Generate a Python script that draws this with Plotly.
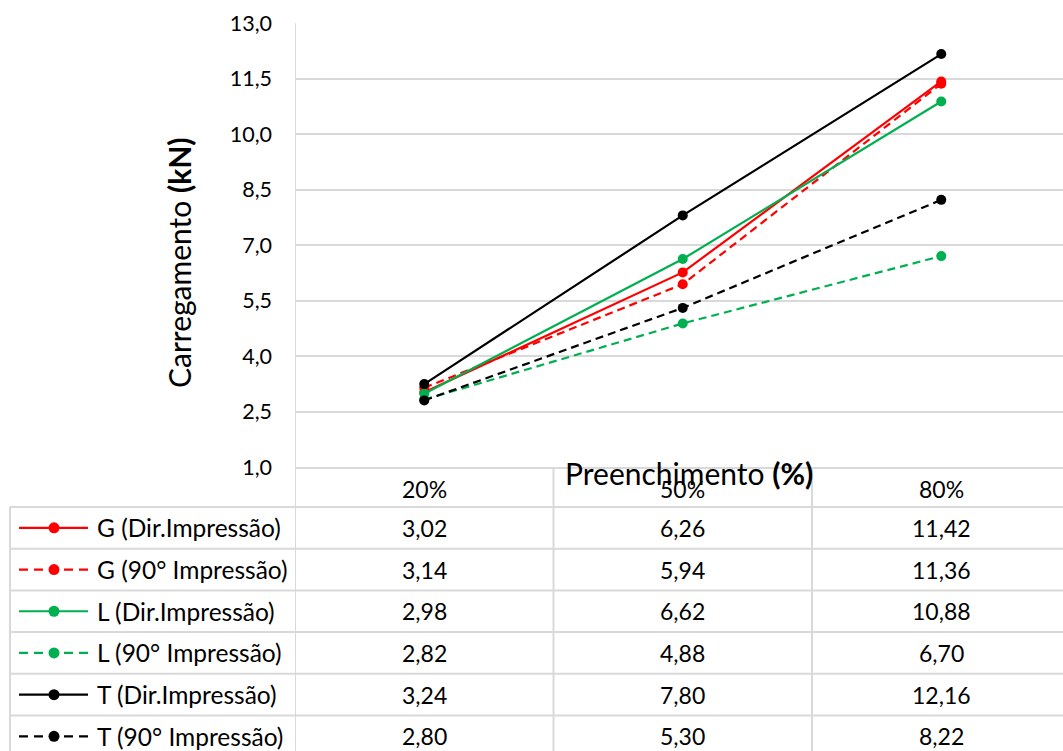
import plotly.graph_objects as go

# ---------------- data ----------------
categories = ["20%", "50%", "80%"]
series_names = ["G (Dir.Impressão)", "G (90° Impressão)", "L (Dir.Impressão)",
                "L (90° Impressão)", "T (Dir.Impressão)", "T (90° Impressão)"]
g_dir = [3.02, 6.26, 11.42]
g_90 = [3.14, 5.94, 11.36]
l_dir = [2.98, 6.62, 10.88]
l_90 = [2.82, 4.88, 6.70]
t_dir = [3.24, 7.80, 12.16]
t_90 = [2.80, 5.30, 8.22]
y_ticks = [1.0, 2.5, 4.0, 5.5, 7.0, 8.5, 10.0, 11.5, 13.0]

series_values = [g_dir, g_90, l_dir, l_90, t_dir, t_90]
series_colors = ["#FF0000", "#FF0000", "#00B050", "#00B050", "#000000", "#000000"]
series_dashed = [False, True, False, True, False, True]

# ---------------- geometry ----------------
W, H = 1063, 751
L_PX, T_PX, B_PX = 295, 23, 467
PLOT_H = B_PX - T_PX
PLOT_W = W - L_PX
CAT_W = 258.5
GRID = "#D9D9D9"
FONT = "Lato"
DASH = "8px,5px"


def py(p):
    return (B_PX - p) / PLOT_H


def px(p):
    return (p - L_PX) / PLOT_W


fmt = lambda v: f"{v:.2f}".replace(".", ",")

fig = go.Figure()
xs = list(range(len(categories)))
for name, vals, col, dashed in zip(series_names, series_values, series_colors, series_dashed):
    fig.add_trace(go.Scatter(
        x=xs, y=vals, name=name, mode="lines+markers",
        line=dict(color=col, width=2.2, dash=DASH if dashed else "solid"),
        marker=dict(color=col, size=10, symbol="circle"),
        showlegend=False,
    ))

shapes = []
annotations = []

# table row geometry
header_top, header_bot = 467, 507
row_h = 41.7
row_tops = [header_bot + i * row_h for i in range(len(series_names))]

# vertical column separators (category boundaries)
for b in [0.5, 1.5]:
    shapes.append(dict(type="line", xref="x", yref="paper", x0=b, x1=b,
                       y0=py(header_top), y1=py(H + 10), line=dict(color=GRID, width=2)))
# left axis line extended through the table
shapes.append(dict(type="line", xref="x", yref="paper", x0=-0.5, x1=-0.5,
                   y0=1, y1=py(H + 10), line=dict(color=GRID, width=2)))
# legend column left border
shapes.append(dict(type="line", xref="paper", yref="paper", x0=px(10), x1=px(10),
                   y0=py(header_bot), y1=py(H + 10), line=dict(color=GRID, width=2)))
# horizontal row lines
for t in row_tops:
    shapes.append(dict(type="line", xref="paper", yref="paper", x0=px(10), x1=1,
                       y0=py(t), y1=py(t), line=dict(color=GRID, width=2)))

# header labels
for i, c in enumerate(categories):
    annotations.append(dict(x=i, y=py((header_top + header_bot) / 2 + 2), xref="x", yref="paper",
                            text=c, showarrow=False, xanchor="center", yanchor="middle",
                            font=dict(family=FONT, size=23, color="#000")))

# rows
for r, (name, vals, col, dashed) in enumerate(zip(series_names, series_values, series_colors, series_dashed)):
    cy = row_tops[r] + row_h / 2
    # legend key line
    shapes.append(dict(type="line", xref="paper", yref="paper", x0=px(19), x1=px(88),
                       y0=py(cy), y1=py(cy),
                       line=dict(color=col, width=2.2, dash="9px,6px" if dashed else "solid")))
    # legend key marker
    rad = 5.5
    shapes.append(dict(type="circle", xref="paper", yref="paper",
                       x0=px(54 - rad), x1=px(54 + rad), y0=py(cy - rad), y1=py(cy + rad),
                       fillcolor=col, line=dict(color=col, width=0)))
    annotations.append(dict(x=px(95), y=py(cy), xref="paper", yref="paper", text=name,
                            showarrow=False, xanchor="left", yanchor="middle",
                            font=dict(family=FONT, size=24.5, color="#000")))
    for i, v in enumerate(vals):
        annotations.append(dict(x=i, y=py(cy), xref="x", yref="paper", text=fmt(v),
                                showarrow=False, xanchor="center", yanchor="middle",
                                font=dict(family=FONT, size=23, color="#000")))

# axis titles
annotations.append(dict(x=px(689), y=py(473), xref="paper", yref="paper",
                        text="Preenchimento <b>(%)</b>", showarrow=False,
                        xanchor="center", yanchor="middle",
                        font=dict(family=FONT, size=30, color="#000")))
annotations.append(dict(x=px(179), y=py(263), xref="paper", yref="paper",
                        text="Carregamento <b>(kN)</b>", showarrow=False, textangle=-90,
                        xanchor="center", yanchor="middle",
                        font=dict(family=FONT, size=30, color="#000")))

fig.update_layout(
    width=W, height=H,
    margin=dict(l=L_PX, r=0, t=T_PX, b=H - B_PX, autoexpand=False),
    paper_bgcolor="white", plot_bgcolor="white",
    shapes=shapes, annotations=annotations,
    xaxis=dict(range=[-0.5, -0.5 + PLOT_W / CAT_W], showticklabels=False, showgrid=False,
               zeroline=False, showline=True, linecolor=GRID, linewidth=2, ticks=""),
    yaxis=dict(range=[y_ticks[0], y_ticks[-1]], tickvals=y_ticks,
               ticktext=[f"{v:.1f}".replace(".", ",") for v in y_ticks],
               showgrid=True, gridcolor=GRID, gridwidth=2, zeroline=False,
               showline=False, ticks="", ticklabelstandoff=22,
               tickfont=dict(family=FONT, size=21.5, color="#000")),
)

fig.write_html("out.html", config={"displayModeBar": False},
               post_script="document.body.style.margin='0px';document.body.style.overflow='hidden';")
